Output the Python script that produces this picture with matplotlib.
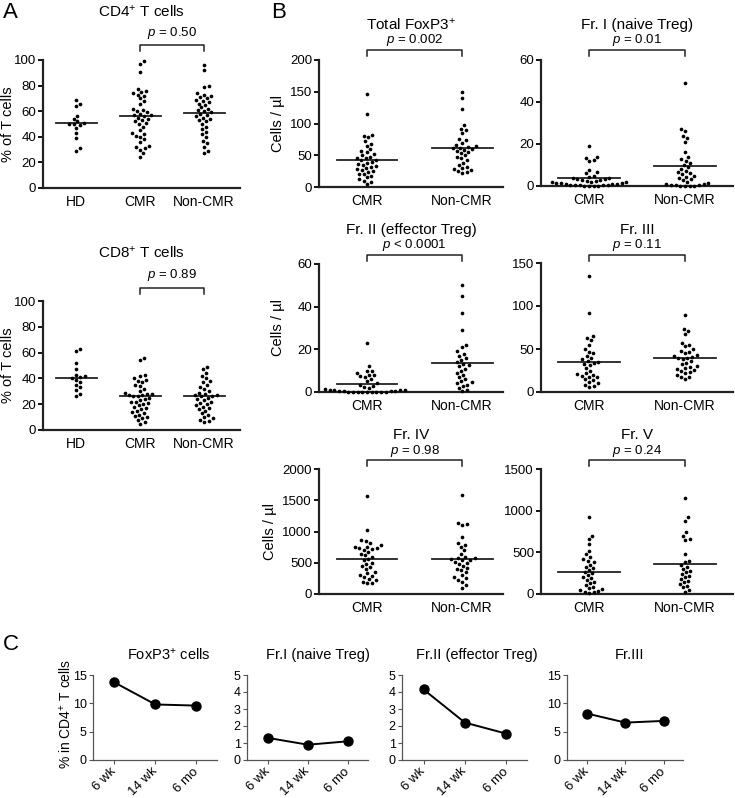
import numpy as np
import matplotlib
matplotlib.use('Agg')
import matplotlib.pyplot as plt
from matplotlib.transforms import blended_transform_factory

plt.rcParams['font.family'] = 'Liberation Sans'
plt.rcParams['mathtext.fontset'] = 'custom'
plt.rcParams['mathtext.rm'] = 'Liberation Sans'
plt.rcParams['mathtext.it'] = 'Liberation Sans:italic'

W, H = 735, 798

## Data
groups_a = ['HD', 'CMR', 'Non-CMR']
groups_b = ['CMR', 'Non-CMR']

cd4_hd = [69, 66, 64, 56, 54, 52, 51, 50, 50, 49, 47, 43, 39, 31, 29]
cd4_cmr = [99, 97, 91, 77, 76, 75, 74, 73, 72, 70, 68, 66, 62, 61, 60, 59, 58, 57, 57, 56,
           55, 54, 53, 52, 51, 50, 48, 45, 43, 42, 41, 40, 38, 36, 33, 32, 31, 30, 27, 24]
cd4_non = [96, 92, 80, 79, 74, 73, 72, 71, 70, 69, 68, 67, 66, 65, 63, 62, 61, 60, 59, 58,
           57, 56, 55, 54, 53, 52, 50, 48, 46, 44, 42, 40, 37, 35, 32, 29, 27]
cd4_med = [50.5, 56.5, 58.5]

cd8_hd = [63, 61, 52, 47, 43, 42, 41, 40, 39, 37, 35, 33, 31, 28, 26]
cd8_cmr = [56, 54, 43, 42, 40, 39, 38, 37, 35, 34, 32, 30, 29, 28, 28, 27, 27, 26, 26, 25,
           24, 23, 22, 22, 21, 20, 19, 18, 17, 16, 15, 14, 13, 12, 11, 10, 9, 8, 6, 5]
cd8_non = [49, 47, 44, 42, 40, 38, 37, 35, 33, 32, 30, 29, 28, 27, 27, 26, 26, 25, 24, 23,
           22, 21, 20, 19, 18, 17, 16, 15, 13, 12, 10, 9, 8, 7, 6]
cd8_med = [40.5, 26, 26]

foxp3_cmr = [146, 115, 82, 80, 78, 72, 68, 65, 60, 57, 55, 52, 50, 48, 46, 45, 43, 42, 40,
             38, 36, 35, 33, 32, 30, 28, 27, 25, 23, 21, 20, 18, 15, 12, 10, 8, 5]
foxp3_non = [150, 140, 123, 97, 92, 90, 85, 76, 74, 70, 66, 64, 63, 62, 61, 60, 58, 57, 55,
             53, 50, 48, 45, 42, 38, 35, 32, 30, 28, 26, 25, 23, 22]
foxp3_med = [43, 62]

fr1_cmr = [19, 14, 13.5, 12.5, 12, 7.5, 6.5, 6, 5, 4.5, 4, 4, 3.5, 3.5, 3, 3, 2.5, 2.5, 2,
           2, 2, 1.5, 1.5, 1.5, 1, 1, 1, 0.5, 0.5, 0.5, 0.3, 0.3, 0.2, 0.1, 0, 0]
fr1_non = [49, 27, 26, 24, 23, 21, 16, 14, 13, 12, 11, 10, 9, 8, 7, 6.5, 6, 5.5, 5, 4.5, 4,
           3.5, 3, 2, 1.5, 1, 0.8, 0.5, 0.4, 0.3, 0.2, 0.1, 0, 0]
fr1_med = [4, 9.7]

fr2_cmr = [23, 12, 10, 10, 9, 8, 8, 7.5, 7, 6, 5, 4, 3.5, 3, 2.5, 2, 1.5, 1, 1, 1, 0.8, 0.5,
           0.5, 0.3, 0.3, 0.2, 0.2, 0.1, 0.1, 0, 0, 0, 0, 0]
fr2_non = [50, 45, 37, 29, 22, 21, 19, 18, 17, 16, 15, 14, 13, 12.5, 12, 11, 10, 9, 8, 7, 6,
           5, 4.5, 4, 3.5, 3, 2, 1, 0.5]
fr2_med = [3.8, 13.5]

fr3_cmr = [135, 92, 65, 63, 60, 55, 50, 47, 45, 42, 40, 38, 36, 35, 34, 33, 31, 28, 25, 22,
           21, 20, 19, 18, 17, 15, 14, 12, 10, 8, 7, 6]
fr3_non = [89, 73, 71, 67, 57, 55, 53, 50, 48, 47, 45, 43, 42, 41, 40, 39, 38, 36, 34, 32,
           30, 29, 28, 27, 26, 25, 23, 22, 20, 18, 17, 15]
fr3_med = [35, 39]

fr4_cmr = [1570, 1020, 870, 850, 820, 780, 760, 750, 740, 730, 720, 700, 680, 640, 620, 600,
           560, 540, 500, 480, 450, 430, 400, 350, 330, 310, 290, 270, 240, 220, 200, 180, 170]
fr4_non = [1580, 1140, 1120, 1100, 920, 820, 780, 760, 700, 640, 600, 580, 570, 560, 550, 540,
           520, 500, 480, 450, 420, 400, 380, 350, 300, 270, 250, 220, 200, 150, 100]
fr4_med = [555, 565]

fr5_cmr = [920, 700, 660, 600, 520, 480, 450, 420, 400, 380, 350, 330, 310, 290, 270, 250,
           230, 210, 190, 170, 150, 130, 110, 90, 70, 60, 50, 40, 30, 20, 10]
fr5_non = [1150, 920, 880, 740, 700, 660, 650, 480, 400, 380, 350, 330, 300, 280, 260, 240,
           220, 200, 180, 160, 140, 120, 100, 80, 50, 30]
fr5_med = [270, 355]

timepoints = ['6 wk', '14 wk', '6 mo']
c_foxp3 = [13.7, 9.8, 9.6]
c_fr1 = [1.3, 0.9, 1.1]
c_fr2 = [4.15, 2.2, 1.55]
c_fr3 = [8.2, 6.6, 6.9]


fig = plt.figure(figsize=(W / 100, H / 100), dpi=100)


def fy(y):
    return 1 - y / H


def add_ax(l, r, t, b):
    return fig.add_axes([l / W, 1 - b / H, (r - l) / W, (b - t) / H])


def swarm(ypix, d):
    # simple beeswarm: offsets in pixels
    order = np.argsort(ypix)
    xs = np.zeros(len(ypix))
    placed = []
    for i in order:
        y = ypix[i]
        cands = [0.0]
        for px, py in placed:
            dy = abs(py - y)
            if dy < d:
                dx = np.sqrt(d * d - dy * dy)
                cands += [px + dx, px - dx]
        cands.sort(key=abs)
        for c in cands:
            if all((c - px) ** 2 + (y - py) ** 2 >= d * d - 1e-6 for px, py in placed):
                xs[i] = c
                break
        placed.append((xs[i], y))
    return xs


def dot_panel(ax, labels, groups, meds, xlim, ymax, yticks, title, ptxt, br, ty, ylabel=None):
    ax.set_xlim(*xlim)
    ax.set_ylim(0, ymax)
    ppu = (ax.transData.transform((1, 0)) - ax.transData.transform((0, 0)))[0]
    for i, vals in enumerate(groups):
        vals = np.asarray(vals, float)
        yp = ax.transData.transform(np.column_stack([np.zeros(len(vals)), vals]))[:, 1]
        off = swarm(yp, 4.7)
        ax.scatter(i + off / ppu, vals, s=7, c='black', lw=0, clip_on=False, zorder=3)
        ax.plot([i - 0.32, i + 0.32], [meds[i]] * 2, color='#222222', lw=1.3, zorder=2)
    ax.set_xticks(range(len(labels)))
    ax.set_xticklabels(labels, fontsize=10)
    ax.set_yticks(yticks)
    ax.tick_params(axis='y', length=3.5, width=1.3, labelsize=9.5, pad=1.5)
    ax.tick_params(axis='x', length=0, pad=5)
    for s in ['top', 'right']:
        ax.spines[s].set_visible(False)
    for s in ['left', 'bottom']:
        ax.spines[s].set_linewidth(1.6)
        ax.spines[s].set_color('#222222')
    ax.patch.set_alpha(0)
    # title, p value and bracket
    pos = ax.get_position()
    fig.text(pos.x0 + pos.width / 2, fy(ty[0]), title, ha='center', va='center', fontsize=11)
    tr = blended_transform_factory(ax.transData, fig.transFigure)
    a, b = br
    ax.plot([a, a, b, b], [fy(ty[2] + 6), fy(ty[2]), fy(ty[2]), fy(ty[2] + 6)], color='#222222',
            lw=1.1, transform=tr, clip_on=False)
    ax.text((a + b) / 2, fy(ty[1]), ptxt, ha='center', va='center', fontsize=9.5, transform=tr)
    if ylabel:
        x0, yc = ylabel[1]
        fig.text(x0 / W, fy(yc), ylabel[0], rotation=90, ha='center', va='center', fontsize=10.5)


## Panel A
ax = add_ax(43, 240, 60, 188)
dot_panel(ax, groups_a, [cd4_hd, cd4_cmr, cd4_non], cd4_med, (-0.52, 2.56), 100,
          [0, 20, 40, 60, 80, 100], 'CD4$^{+}$ T cells', '$p$ = 0.50', (1, 2), (12, 33, 45),
          ylabel=('% of T cells', (8, 124)))
ax = add_ax(43, 240, 301, 430)
dot_panel(ax, groups_a, [cd8_hd, cd8_cmr, cd8_non], cd8_med, (-0.52, 2.56), 100,
          [0, 20, 40, 60, 80, 100], 'CD8$^{+}$ T cells', '$p$ = 0.89', (1, 2), (253, 275, 288),
          ylabel=('% of T cells', (8, 365)))

## Panel B
lx = (-0.505, 1.43)
rx = (-0.5, 1.5)
ax = add_ax(319, 503, 60, 187)
dot_panel(ax, groups_b, [foxp3_cmr, foxp3_non], foxp3_med, lx, 200, [0, 50, 100, 150, 200],
          'Total FoxP3$^{+}$', '$p$ = 0.002', (0, 1), (25, 40, 50),
          ylabel=('Cells / µl', (278, 123)))
ax = add_ax(541, 733, 60, 186)
dot_panel(ax, groups_b, [fr1_cmr, fr1_non], fr1_med, rx, 60, [0, 20, 40, 60],
          'Fr. I (naive Treg)', '$p$ = 0.01', (0, 1), (25, 40, 50))
ax = add_ax(319, 503, 264, 392)
dot_panel(ax, groups_b, [fr2_cmr, fr2_non], fr2_med, lx, 60, [0, 20, 40, 60],
          'Fr. II (effector Treg)', '$p$ < 0.0001', (0, 1), (230, 245, 255),
          ylabel=('Cells / µl', (278, 328)))
ax = add_ax(541, 733, 263, 392)
dot_panel(ax, groups_b, [fr3_cmr, fr3_non], fr3_med, rx, 150, [0, 50, 100, 150],
          'Fr. III', '$p$ = 0.11', (0, 1), (230, 245, 255))
ax = add_ax(319, 503, 469, 594)
dot_panel(ax, groups_b, [fr4_cmr, fr4_non], fr4_med, lx, 2000, [0, 500, 1000, 1500, 2000],
          'Fr. IV', '$p$ = 0.98', (0, 1), (435, 451, 460),
          ylabel=('Cells / µl', (270, 531)))
ax = add_ax(541, 733, 469, 594)
dot_panel(ax, groups_b, [fr5_cmr, fr5_non], fr5_med, rx, 1500, [0, 500, 1000, 1500],
          'Fr. V', '$p$ = 0.24', (0, 1), (435, 451, 460))

## Panel C
c_specs = [
    ((93, 217), c_foxp3, 15, [0, 5, 10, 15], 'FoxP3$^{+}$ cells', 169),
    ((247, 368), c_fr1, 5, [0, 1, 2, 3, 4, 5], 'Fr.I (naive Treg)', 318),
    ((402, 527), c_fr2, 5, [0, 1, 2, 3, 4, 5], 'Fr.II (effector Treg)', 477),
    ((567, 683), c_fr3, 15, [0, 5, 10, 15], 'Fr.III', 629),
]
for k, ((l, r), vals, ymax, yt, title, tx) in enumerate(c_specs):
    ax = add_ax(l, r, 675, 760)
    ax.plot(range(len(vals)), vals, '-o', color='black', lw=1.4, ms=6.5, clip_on=False)
    ax.set_xlim(-0.52, 2.5)
    ax.set_ylim(0, ymax)
    ax.set_yticks(yt)
    ax.set_xticks(range(len(timepoints)))
    ax.set_xticklabels(timepoints, rotation=45, ha='right', va='center', rotation_mode='anchor',
                       fontsize=9.5)
    ax.tick_params(axis='both', length=3, width=0.8, labelsize=9, pad=1.5, color='#555555')
    ax.tick_params(axis='x', pad=4, labelsize=9.5)
    for s in ['top', 'right']:
        ax.spines[s].set_visible(False)
    for s in ['left', 'bottom']:
        ax.spines[s].set_linewidth(0.9)
        ax.spines[s].set_color('#555555')
    fig.text(tx / W, fy(655), title, ha='center', va='center', fontsize=10.5)

fig.text(66 / W, fy(714), '% in CD4$^{+}$ T cells', rotation=90, ha='center', va='center',
         fontsize=10)

## Panel letters
fig.text(3 / W, fy(12), 'A', fontsize=16, va='center', ha='left')
fig.text(271 / W, fy(12), 'B', fontsize=16, va='center', ha='left')
fig.text(3 / W, fy(644), 'C', fontsize=16, va='center', ha='left')

fig.savefig('out.png', dpi=100)
